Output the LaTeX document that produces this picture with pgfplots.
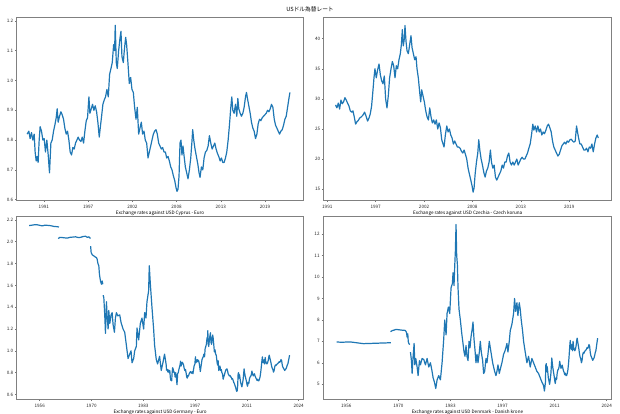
\documentclass[border=0pt]{standalone}
\usepackage{fontspec}
\setmainfont{Noto Sans CJK JP}
\usepackage{pgfplots}
\usepackage{pgfplotstable}
\pgfplotsset{compat=1.18}
\definecolor{mplblue}{RGB}{31,119,180}

% euro rate against USD, 1989-2022 (shared by Cyprus and the later part of Germany)
\pgfplotstableread{
year rate
1989.83 0.820
1990.04 0.830
1990.20 0.805
1990.37 0.825
1990.53 0.800
1990.70 0.820
1990.82 0.760
1990.95 0.730
1991.07 0.745
1991.19 0.725
1991.32 0.800
1991.44 0.845
1991.61 0.830
1991.78 0.800
1991.94 0.805
1992.10 0.760
1992.27 0.800
1992.44 0.750
1992.60 0.690
1992.77 0.790
1992.93 0.800
1993.10 0.830
1993.26 0.850
1993.43 0.875
1993.55 0.905
1993.67 0.860
1993.84 0.880
1994.01 0.895
1994.17 0.885
1994.34 0.870
1994.50 0.840
1994.67 0.820
1994.83 0.830
1995.00 0.800
1995.16 0.760
1995.33 0.750
1995.49 0.775
1995.66 0.770
1995.82 0.790
1995.99 0.800
1996.15 0.810
1996.32 0.800
1996.49 0.795
1996.65 0.810
1996.82 0.790
1996.98 0.830
1997.15 0.865
1997.31 0.875
1997.48 0.945
1997.60 0.890
1997.77 0.905
1997.93 0.920
1998.10 0.900
1998.26 0.915
1998.43 0.895
1998.59 0.860
1998.76 0.810
1998.88 0.840
1999.05 0.880
1999.21 0.920
1999.38 0.935
1999.54 0.945
1999.71 0.970
1999.88 0.945
2000.04 1.020
2000.21 1.040
2000.37 1.060
2000.54 1.120
2000.66 1.100
2000.74 1.185
2000.87 1.060
2000.99 1.040
2001.16 1.100
2001.32 1.140
2001.45 1.165
2001.57 1.080
2001.74 1.060
2001.86 1.100
2002.03 1.145
2002.15 1.120
2002.31 1.060
2002.48 0.990
2002.65 1.010
2002.81 0.970
2002.98 0.960
2003.14 0.910
2003.31 0.870
2003.47 0.910
2003.64 0.820
2003.80 0.840
2003.97 0.860
2004.13 0.820
2004.30 0.830
2004.46 0.800
2004.63 0.790
2004.80 0.740
2004.96 0.760
2005.13 0.780
2005.29 0.800
2005.46 0.820
2005.62 0.830
2005.79 0.835
2005.95 0.820
2006.12 0.790
2006.28 0.780
2006.45 0.770
2006.61 0.775
2006.78 0.760
2006.95 0.760
2007.11 0.740
2007.28 0.745
2007.44 0.730
2007.61 0.710
2007.77 0.700
2007.94 0.680
2008.10 0.665
2008.27 0.640
2008.39 0.628
2008.51 0.635
2008.64 0.680
2008.76 0.790
2008.88 0.800
2009.00 0.750
2009.13 0.780
2009.25 0.750
2009.42 0.710
2009.59 0.690
2009.75 0.670
2009.92 0.700
2010.09 0.740
2010.25 0.800
2010.33 0.835
2010.46 0.800
2010.62 0.770
2010.79 0.745
2010.96 0.720
2011.12 0.690
2011.24 0.675
2011.41 0.710
2011.58 0.700
2011.74 0.740
2011.91 0.760
2012.07 0.765
2012.24 0.780
2012.40 0.815
2012.57 0.790
2012.74 0.770
2012.90 0.780
2013.07 0.790
2013.23 0.770
2013.40 0.755
2013.56 0.745
2013.73 0.730
2013.89 0.740
2014.06 0.725
2014.22 0.725
2014.39 0.740
2014.55 0.760
2014.72 0.800
2014.88 0.850
2015.05 0.910
2015.17 0.945
2015.30 0.900
2015.46 0.890
2015.63 0.920
2015.79 0.880
2015.92 0.940
2016.04 0.905
2016.21 0.890
2016.37 0.880
2016.54 0.890
2016.70 0.910
2016.87 0.945
2016.99 0.960
2017.11 0.940
2017.28 0.915
2017.45 0.890
2017.61 0.860
2017.78 0.840
2017.94 0.830
2018.11 0.805
2018.28 0.820
2018.44 0.855
2018.61 0.870
2018.77 0.865
2018.94 0.875
2019.10 0.880
2019.27 0.885
2019.44 0.890
2019.60 0.900
2019.77 0.895
2019.93 0.905
2020.09 0.920
2020.26 0.910
2020.43 0.870
2020.59 0.850
2020.76 0.840
2020.92 0.830
2021.09 0.820
2021.25 0.830
2021.42 0.835
2021.58 0.850
2021.75 0.870
2021.91 0.880
2022.08 0.910
2022.25 0.940
2022.37 0.960
}\eurtab

\pgfplotsset{
  fxline/.style={mplblue, line width=1.2pt, line join=round, mark=none},
  fxpanel/.style={
    scale only axis, anchor=south west,
    axis line style={black!50, line width=0.7pt},
    tick align=outside, major tick length=1.6pt,
    tick style={black!55, line width=0.5pt},
    xtick pos=bottom, ytick pos=left,
    tick label style={font=\fontsize{4.6}{5.5}\selectfont, text=black!85,
                      /pgf/number format/assume math mode=true},
    xticklabel style={anchor=center, inner sep=0pt, yshift=-4.4pt},
    yticklabel style={anchor=east, inner sep=0pt, xshift=-1.8pt},
    xlabel style={at={(axis description cs:0.5,0)}, anchor=center, inner sep=0pt,
                  yshift=-12.6pt, font=\fontsize{4.6}{5.5}\selectfont},
    unbounded coords=jump,
  },
  toppanel/.style={
    fxpanel, height=183.6pt,
    xtick={1991.90,1997.38,2002.86,2008.33,2013.81,2019.29},
    xticklabels={1991,1997,2002,2008,2013,2019},
  },
  botpanel/.style={
    fxpanel, height=183.2pt, xmin=1950.25, xmax=2026.07,
    xtick={1956.31,1970.00,1983.69,1997.38,2011.07,2024.76},
    xticklabels={1956,1970,1983,1997,2011,2024},
  },
}

\begin{document}
\begin{tikzpicture}
\path[use as bounding box] (0,0) rectangle (620pt,413pt);

\node[font=\fontsize{5.7}{6.8}\selectfont, inner sep=0pt] at (310pt,404pt) {USドル為替レート};

% ------------------------------------------------------------ Cyprus
\begin{axis}[toppanel, at={(16.8pt,212.4pt)}, width=286.6pt,
  xmin=1988.55, xmax=2024.04, ymin=0.597, ymax=1.213,
  ytick={0.6,0.7,0.8,0.9,1.0,1.1,1.2},
  yticklabel style={/pgf/number format/.cd, fixed, fixed zerofill, precision=1},
  xlabel={Exchange rates against USD Cyprus - Euro}]
\addplot[fxline] table[x=year, y=rate] {\eurtab};
\end{axis}

% ------------------------------------------------------------ Czechia
\begin{axis}[toppanel, at={(323.8pt,212.4pt)}, width=287.9pt,
  xmin=1991.51, xmax=2024.10, ymin=13.1, ymax=43.6,
  ytick={15,20,25,30,35,40},
  xlabel={Exchange rates against USD Czechia - Czech koruna}]
\addplot[fxline] coordinates {
(1992.84,29.0) (1992.99,28.5) (1993.15,29.3) (1993.30,28.3) (1993.45,29.8)
(1993.60,29.2) (1993.75,29.5) (1993.90,30.2) (1994.05,29.8) (1994.20,29.3)
(1994.36,28.8) (1994.51,28.0) (1994.66,27.8) (1994.81,28.0) (1994.96,27.0)
(1995.11,25.8) (1995.26,26.2) (1995.41,26.4) (1995.56,26.8) (1995.75,27.0)
(1995.94,27.3) (1996.13,27.8) (1996.32,27.0) (1996.47,26.3) (1996.62,26.8)
(1996.77,27.5) (1996.92,28.8) (1997.08,31.5) (1997.19,33.5) (1997.30,35.0)
(1997.45,33.5) (1997.60,34.8) (1997.76,35.8) (1997.91,34.0) (1998.06,33.0)
(1998.21,32.5) (1998.36,33.8) (1998.51,30.0) (1998.66,28.5) (1998.81,30.5)
(1998.96,33.5) (1999.12,35.0) (1999.27,36.2) (1999.42,35.5) (1999.57,33.5)
(1999.72,35.5) (1999.87,35.0) (2000.02,36.5) (2000.17,37.5) (2000.29,39.0)
(2000.40,41.5) (2000.51,38.8) (2000.63,40.0) (2000.70,42.2) (2000.82,39.5)
(2000.93,38.0) (2001.08,37.5) (2001.23,39.0) (2001.38,40.5) (2001.50,38.5)
(2001.65,37.5) (2001.80,36.5) (2001.95,37.0) (2002.06,35.0) (2002.21,33.5)
(2002.37,31.0) (2002.48,29.5) (2002.59,31.5) (2002.74,30.5) (2002.89,29.5)
(2003.05,28.0) (2003.20,27.0) (2003.35,26.5) (2003.50,28.5) (2003.65,27.0)
(2003.80,26.0) (2003.95,26.5) (2004.10,25.8) (2004.25,26.5) (2004.41,25.0)
(2004.56,26.0) (2004.71,25.2) (2004.86,23.2) (2005.01,22.5) (2005.12,22.0)
(2005.27,24.0) (2005.43,25.5) (2005.58,24.5) (2005.73,25.0) (2005.88,24.0)
(2006.03,23.5) (2006.18,22.5) (2006.33,23.0) (2006.48,22.5) (2006.63,22.0)
(2006.79,22.0) (2006.94,21.8) (2007.09,21.3) (2007.24,21.0) (2007.39,21.5)
(2007.54,20.8) (2007.69,20.0) (2007.84,18.5) (2007.99,17.5) (2008.15,16.5)
(2008.30,15.5) (2008.41,14.5) (2008.52,15.2) (2008.64,17.5) (2008.79,19.5)
(2008.94,21.0) (2009.05,23.2) (2009.17,21.5) (2009.32,20.0) (2009.47,19.0)
(2009.62,17.8) (2009.77,17.0) (2009.92,18.0) (2010.07,18.5) (2010.22,19.5)
(2010.37,21.5) (2010.49,19.5) (2010.64,18.5) (2010.79,19.0) (2010.94,17.0)
(2011.09,16.5) (2011.24,17.0) (2011.39,17.5) (2011.55,18.0) (2011.70,19.0)
(2011.85,18.5) (2012.00,19.5) (2012.15,19.5) (2012.30,20.5) (2012.45,21.0)
(2012.60,19.5) (2012.75,19.0) (2012.91,19.5) (2013.06,19.0) (2013.21,19.5)
(2013.36,20.0) (2013.51,19.0) (2013.66,19.5) (2013.81,20.0) (2013.96,20.3)
(2014.11,20.0) (2014.27,20.0) (2014.42,20.5) (2014.57,21.0) (2014.72,21.8)
(2014.87,22.5) (2015.02,24.0) (2015.17,25.8) (2015.29,24.8) (2015.44,25.5)
(2015.59,24.5) (2015.74,25.5) (2015.89,24.5) (2016.04,25.0) (2016.19,24.0)
(2016.34,24.5) (2016.49,24.2) (2016.65,24.8) (2016.80,25.5) (2016.95,25.8)
(2017.10,25.2) (2017.25,24.5) (2017.40,23.0) (2017.55,22.0) (2017.70,21.5)
(2017.85,21.0) (2018.01,20.5) (2018.16,20.8) (2018.31,21.5) (2018.46,22.2)
(2018.61,22.5) (2018.76,22.8) (2018.91,22.5) (2019.06,23.0) (2019.21,22.8)
(2019.37,23.2) (2019.52,23.3) (2019.67,23.0) (2019.82,22.8) (2019.97,23.0)
(2020.12,25.5) (2020.23,24.5) (2020.35,23.5) (2020.50,22.5) (2020.65,22.5)
(2020.80,22.0) (2020.95,21.5) (2021.10,21.5) (2021.25,21.8) (2021.41,21.2)
(2021.56,22.0) (2021.71,21.8) (2021.86,22.5) (2022.01,21.2) (2022.16,22.5)
(2022.31,23.5) (2022.46,24.0) (2022.58,23.5)
};
\end{axis}

% ------------------------------------------------------------ Germany
\begin{axis}[botpanel, at={(16.8pt,13.4pt)}, width=286.8pt,
  ymin=0.553, ymax=2.232,
  ytick={0.6,0.8,1.0,1.2,1.4,1.6,1.8,2.0,2.2},
  yticklabel style={/pgf/number format/.cd, fixed, fixed zerofill, precision=1},
  xlabel={Exchange rates against USD Germany - Euro}]
\addplot[fxline] coordinates {
(1953.50,2.148) (1954.30,2.152) (1954.82,2.155) (1955.70,2.155) (1956.30,2.150)
(1957.01,2.145) (1957.70,2.152) (1958.33,2.150) (1959.20,2.147) (1960.08,2.140)
(1960.80,2.138) (1961.40,2.135) (1961.41,nan)
(1961.20,2.028) (1961.60,2.040) (1962.28,2.038) (1963.00,2.035) (1963.59,2.033)
(1964.30,2.040) (1964.91,2.042) (1965.79,2.045) (1966.50,2.038) (1967.11,2.040)
(1967.80,2.048) (1968.42,2.050) (1968.90,2.040) (1969.30,2.045) (1969.55,2.035)
(1969.74,2.030) (1969.75,nan)
(1969.76,1.960) (1969.91,1.900) (1970.20,1.880) (1970.62,1.870) (1971.00,1.860)
(1971.30,1.855) (1971.49,1.840) (1971.70,1.800) (1971.93,1.780) (1972.10,1.700)
(1972.37,1.640) (1972.63,1.610) (1972.81,1.640) (1972.99,1.610) (1973.00,nan)
(1973.07,1.510) (1973.25,1.490) (1973.51,1.320) (1973.69,1.160) (1973.95,1.450)
(1974.13,1.320) (1974.39,1.200) (1974.57,1.370) (1974.83,1.250) (1975.18,1.330)
(1975.45,1.350) (1975.71,1.240) (1976.06,1.170) (1976.32,1.300) (1976.58,1.350)
(1976.94,1.320) (1977.46,1.330) (1977.81,1.260) (1978.34,1.200) (1978.78,1.170)
(1979.22,1.050) (1979.66,0.930) (1980.10,0.970) (1980.45,1.000) (1980.71,0.890)
(1981.15,0.930) (1981.41,1.000) (1981.85,1.040) (1982.03,1.210) (1982.47,1.100)
(1982.90,1.250) (1983.34,1.300) (1983.78,1.200) (1984.05,1.350) (1984.40,1.300)
(1984.66,1.450) (1985.10,1.550) (1985.27,1.780) (1985.54,1.620) (1985.98,1.400)
(1986.42,1.200) (1986.68,1.050) (1987.12,0.920) (1987.47,0.880) (1988.00,0.950)
(1988.43,0.820) (1988.87,0.890) (1989.31,0.970) (1989.75,0.870) (1989.83,0.820)
};
\addplot[fxline] table[x=year, y=rate] {\eurtab};
\end{axis}

% ------------------------------------------------------------ Denmark
\begin{axis}[botpanel, at={(323.2pt,13.4pt)}, width=288.5pt,
  ymin=4.28, ymax=12.83,
  ytick={5,6,7,8,9,10,11,12},
  xlabel={Exchange rates against USD Denmark - Danish krone}]
\addplot[fxline] coordinates {
(1953.77,6.97) (1954.70,6.96) (1955.70,6.96) (1956.60,6.97) (1957.45,6.97)
(1958.30,6.95) (1959.19,6.93) (1960.00,6.91) (1960.94,6.89) (1961.80,6.90)
(1962.69,6.90) (1963.60,6.91) (1964.44,6.91) (1965.30,6.92) (1966.19,6.92)
(1967.20,6.93) (1968.02,6.93) (1968.03,nan)
(1967.94,7.45) (1968.40,7.50) (1968.81,7.52) (1969.30,7.55) (1969.69,7.55)
(1970.10,7.54) (1970.56,7.53) (1971.00,7.52) (1971.43,7.52) (1971.87,7.50)
(1972.13,7.42) (1972.30,7.20) (1972.48,7.35) (1972.60,7.00) (1972.74,6.90)
(1973.00,6.85) (1973.01,nan)
(1973.18,6.50) (1973.44,6.10) (1973.62,5.50) (1973.88,6.30) (1974.14,6.90)
(1974.32,5.90) (1974.58,6.20) (1974.93,5.80) (1975.19,5.40) (1975.54,6.10)
(1975.80,5.90) (1976.24,6.20) (1976.68,6.15) (1977.12,5.90) (1977.55,6.20)
(1977.99,5.80) (1978.43,6.00) (1978.86,5.60) (1979.13,5.30) (1979.48,5.10)
(1979.83,4.80) (1980.18,5.20) (1980.61,5.40) (1981.05,5.20) (1981.49,6.00)
(1981.92,7.10) (1982.19,8.00) (1982.54,7.30) (1982.80,8.30) (1983.15,8.60)
(1983.50,8.30) (1983.85,9.50) (1984.20,9.70) (1984.37,10.20) (1984.63,9.60)
(1984.81,10.50) (1984.98,11.20) (1985.16,12.45) (1985.33,11.00) (1985.51,10.60)
(1985.68,9.50) (1985.94,8.50) (1986.29,8.00) (1986.64,7.40) (1986.99,6.90)
(1987.26,6.50) (1987.52,6.30) (1987.78,6.80) (1988.04,6.30) (1988.31,6.10)
(1988.57,7.00) (1988.83,6.70) (1989.09,7.20) (1989.35,7.50) (1989.62,7.90)
(1989.88,7.10) (1990.14,6.60) (1990.40,6.00) (1990.67,6.40) (1990.93,6.00)
(1991.28,6.50) (1991.54,7.00) (1991.80,6.50) (1992.15,6.10) (1992.41,5.50)
(1992.68,5.60) (1993.03,6.20) (1993.29,6.00) (1993.55,6.40) (1993.90,7.00)
(1994.16,6.70) (1994.43,6.40) (1994.78,6.00) (1995.04,5.80) (1995.30,5.60)
(1995.65,5.40) (1995.91,5.60) (1996.18,5.90) (1996.53,5.50) (1996.79,5.70)
(1997.22,6.00) (1997.66,6.40) (1997.92,6.50) (1998.27,6.70) (1998.53,6.90)
(1998.80,6.50) (1999.15,7.00) (1999.41,7.50) (1999.85,7.80) (2000.28,8.30)
(2000.54,9.00) (2000.81,8.40) (2001.16,8.80) (2001.42,8.20) (2001.77,8.80)
(2002.03,8.50) (2002.29,8.00) (2002.64,7.50) (2002.91,7.00) (2003.34,6.50)
(2003.78,6.00) (2004.22,6.30) (2004.65,5.80) (2005.09,6.20) (2005.53,6.00)
(2005.97,5.80) (2006.40,5.60) (2006.84,5.50) (2007.28,5.30) (2007.71,5.10)
(2008.15,4.95) (2008.39,4.68) (2008.64,5.07) (2008.76,5.89) (2008.88,5.96)
(2009.00,5.59) (2009.13,5.81) (2009.25,5.59) (2009.42,5.29) (2009.59,5.14)
(2009.75,4.99) (2009.92,5.22) (2010.09,5.51) (2010.25,5.96) (2010.33,6.22)
(2010.46,5.96) (2010.62,5.74) (2010.79,5.55) (2010.96,5.36) (2011.12,5.14)
(2011.24,5.03) (2011.41,5.29) (2011.58,5.22) (2011.74,5.51) (2011.91,5.66)
(2012.07,5.70) (2012.24,5.81) (2012.40,6.07) (2012.57,5.89) (2012.74,5.74)
(2012.90,5.81) (2013.07,5.89) (2013.23,5.74) (2013.40,5.62) (2013.56,5.55)
(2013.73,5.44) (2013.89,5.51) (2014.06,5.40) (2014.22,5.40) (2014.39,5.51)
(2014.55,5.66) (2014.72,5.96) (2014.88,6.33) (2015.05,6.78) (2015.17,7.04)
(2015.30,6.71) (2015.46,6.63) (2015.63,6.85) (2015.79,6.56) (2015.92,7.00)
(2016.04,6.74) (2016.21,6.63) (2016.37,6.56) (2016.54,6.63) (2016.70,6.78)
(2016.87,7.04) (2016.99,7.15) (2017.11,7.00) (2017.28,6.82) (2017.45,6.63)
(2017.61,6.41) (2017.78,6.26) (2017.94,6.18) (2018.11,6.00) (2018.28,6.11)
(2018.44,6.37) (2018.61,6.48) (2018.77,6.44) (2018.94,6.52) (2019.10,6.56)
(2019.27,6.59) (2019.44,6.63) (2019.60,6.71) (2019.77,6.67) (2019.93,6.74)
(2020.09,6.85) (2020.26,6.78) (2020.43,6.48) (2020.59,6.33) (2020.76,6.26)
(2020.92,6.18) (2021.09,6.11) (2021.25,6.18) (2021.42,6.22) (2021.58,6.33)
(2021.75,6.48) (2021.91,6.56) (2022.08,6.78) (2022.25,7.00) (2022.37,7.15)
};
\end{axis}
\end{tikzpicture}
\end{document}
